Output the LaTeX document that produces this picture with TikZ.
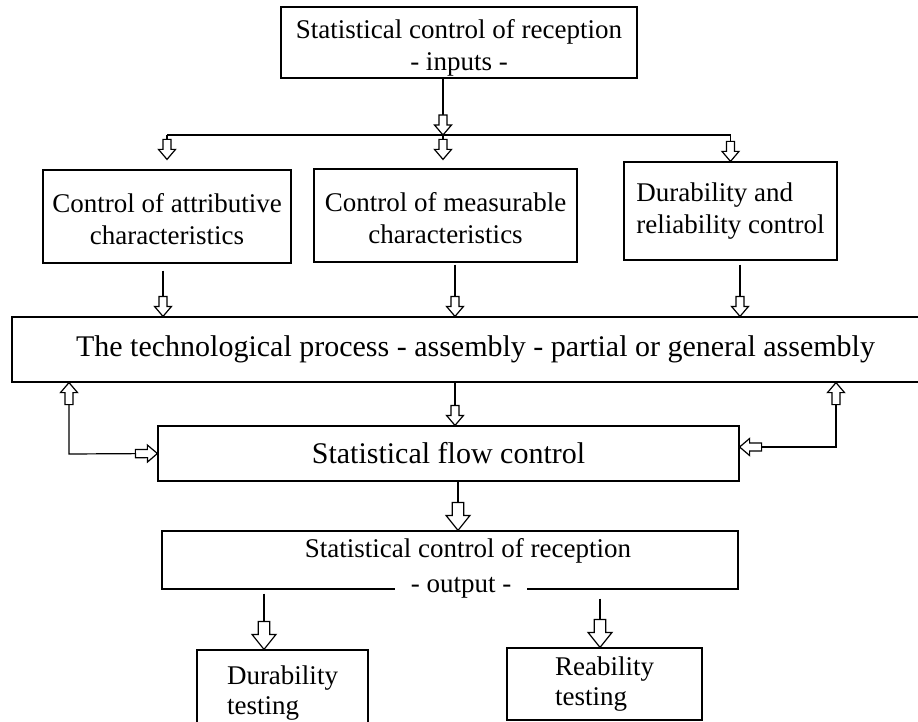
\documentclass[tikz,border=0pt]{standalone}
\usepackage{fontspec}
\setmainfont{Liberation Serif}
\usepackage{tikz}
\usetikzlibrary{positioning,arrows.meta,calc}

% hollow block arrow: stem plus head
\pgfdeclarearrow{
  name = Blk,
  parameters = {\the\pgfarrowlength,\the\pgfarrowwidth,\the\pgfarrowinset},
  setup code = {
    \pgfarrowssettipend{0pt}
    \pgfarrowssetlineend{-\pgfarrowlength}
    \pgfarrowssetbackend{-\pgfarrowlength}
    \pgfarrowssetvisualbackend{-\pgfarrowlength}
    \pgfarrowshullpoint{0pt}{0pt}
    \pgfarrowsupperhullpoint{-\pgfarrowlength}{.5\pgfarrowwidth}
    \pgfarrowssavethe\pgfarrowlength
    \pgfarrowssavethe\pgfarrowwidth
    \pgfarrowssavethe\pgfarrowinset
  },
  drawing code = {
    \pgfsetmiterjoin
    \pgfpathmoveto{\pgfpointorigin}
    \pgfpathlineto{\pgfpoint{-\pgfarrowinset}{.5\pgfarrowwidth}}
    \pgfpathlineto{\pgfpoint{-\pgfarrowinset}{.24\pgfarrowwidth}}
    \pgfpathlineto{\pgfpoint{-\pgfarrowlength}{.24\pgfarrowwidth}}
    \pgfpathlineto{\pgfpoint{-\pgfarrowlength}{-.24\pgfarrowwidth}}
    \pgfpathlineto{\pgfpoint{-\pgfarrowinset}{-.24\pgfarrowwidth}}
    \pgfpathlineto{\pgfpoint{-\pgfarrowinset}{-.5\pgfarrowwidth}}
    \pgfpathclose
    \pgfsetfillcolor{white}
    \pgfusepathqfillstroke
  },
  defaults = {length=20pt,width=17pt,inset=10pt}
}

\begin{document}
\begin{tikzpicture}[x=1pt,y=-1pt,line width=1.2pt,
    box/.style={draw,inner sep=0pt,align=center,font=\fontsize{27}{32}\selectfont},
    bigbox/.style={box,font=\fontsize{30}{34}\selectfont},
    arr/.style={-{Blk[length=20pt,width=17pt,inset=10pt]}},
    bigarr/.style={-{Blk[length=28pt,width=24pt,inset=15pt]}},
    dblarr/.style={{Blk[length=22pt,width=17pt,inset=10pt]}-{Blk[length=22pt,width=17pt,inset=10pt]}}]
    \useasboundingbox (0,0) rectangle (918,722);
    % inputs and the three controls
    \node[box,minimum width=356pt,minimum height=71pt] (top) at (459,42.5) {\rule{0pt}{29pt}Statistical control of reception\\- inputs -};
    \node[box,minimum width=248pt,minimum height=93pt] (attr) at (167,216.5) {\rule{0pt}{24pt}Control of attributive\\characteristics};
    \node[box,minimum width=263pt,minimum height=93pt] (meas) at (445.5,215.5) {\rule{0pt}{24pt}Control of measurable\\characteristics};
    \node[box,align=left,minimum width=213pt,minimum height=98pt] (dur) at (730.5,211) {Durability and\\reliability control};
    % process and flow
    \node[bigbox,minimum width=927pt,minimum height=65pt] (tech) at (475.5,349.5) {The technological process - assembly - partial or general assembly};
    \node[bigbox,minimum width=581pt,minimum height=55pt] (flow) at (448.5,453.5) {Statistical flow control};
    % output
    \node[box,minimum width=576pt,minimum height=58pt] (out) at (450,560) {};
    \node[font=\fontsize{27}{32}\selectfont,inner sep=0pt] (outtxt) at (468,551) {Statistical control of reception};
    \node[font=\fontsize{27}{32}\selectfont,fill=white,inner xsep=16pt,inner ysep=2pt] (outlbl) at (461,588) {- output -};
    \node[box,align=left,font=\fontsize{27}{30}\selectfont,minimum width=171pt,minimum height=87pt] (dtest) at (282.5,693.5) {Durability\\testing};
    \node[box,align=left,font=\fontsize{27}{30}\selectfont,minimum width=195pt,minimum height=72pt] (rtest) at (604.5,684) {Reability\\testing};

    \coordinate (split) at (443,135);
    \draw[arr] (split |- top.south) -- (split);
    \draw (split -| attr) -- (split -| dur);
    \draw[arr,shorten >=10pt] (split -| attr) -- (attr.north);
    \draw[arr,shorten >=9pt] (split) -- (split |- meas.north);
    \draw[arr] (split -| dur) -- (dur.north);

    \draw[arr,shorten <=7pt] ([xshift=-4pt]attr.south) -- ([xshift=-4pt]attr.south |- tech.north);
    \draw[arr,shorten <=2pt] ([xshift=9.5pt]meas.south) -- ([xshift=9.5pt]meas.south |- tech.north);
    \draw[arr,shorten <=4pt] ([xshift=9.5pt]dur.south) -- ([xshift=9.5pt]dur.south |- tech.north);
    \draw[arr] ([xshift=6.5pt]flow.north |- tech.south) -- ([xshift=6.5pt]flow.north);

    % feedback loops
    \coordinate (fbL) at (69,454);
    \coordinate (fbR) at (836,447);
    \draw[dblarr] (fbL |- tech.south) -- (fbL) -- (flow.west);
    \draw[dblarr] (fbR |- tech.south) -- (fbR) -- (fbR -| flow.east);

    \draw[bigarr] ([xshift=9.5pt]flow.south) -- ([xshift=9.5pt]flow.south |- out.north);
    \draw[bigarr,shorten <=4pt] ([xshift=-18.5pt]dtest.north |- out.south) -- ([xshift=-18.5pt]dtest.north);
    \draw[bigarr,shorten <=9pt] ([xshift=-4.5pt]rtest.north |- out.south) -- ([xshift=-4.5pt]rtest.north);
\end{tikzpicture}
\end{document}
